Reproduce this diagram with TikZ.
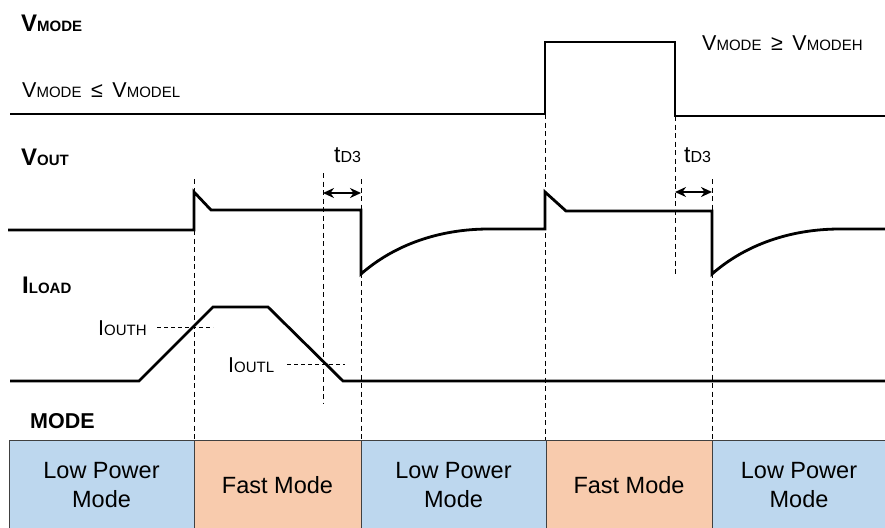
\documentclass[tikz,border=0pt]{standalone}
\usepackage{fontspec}
\setmainfont{Liberation Sans}
\usetikzlibrary{arrows.meta}
\definecolor{lpblue}{HTML}{BDD7EE}
\definecolor{fmorange}{HTML}{F8CBAD}
\newcommand\smtxt[1]{{\fontsize{15}{15}\selectfont #1}}
\newcommand\smbold[1]{{\fontsize{15}{15}\selectfont\bfseries #1}}
\begin{document}
\begin{tikzpicture}[x=1pt,y=-1pt,
  sig/.style={line width=2.8pt},
  guide/.style={line width=0.9pt, dash pattern=on 5pt off 3.5pt},
  thinguide/.style={line width=0.9pt, dash pattern=on 4pt off 3pt},
  lbl/.style={anchor=base west, inner sep=0pt, font=\fontsize{21.5}{22}\selectfont},
  blbl/.style={anchor=base west, inner sep=0pt, font=\fontsize{24}{24}\selectfont\bfseries},
  modebox/.style={draw=black!75, line width=0.8pt, minimum height=90pt, inner sep=0pt, outer sep=0pt, align=center, font=\fontsize{23.5}{29}\selectfont},
  dimarrow/.style={line width=2.4pt, {Stealth[length=11pt,width=10pt]}-{Stealth[length=11pt,width=10pt]}}]
\useasboundingbox (0,0) rectangle (885,527);

% mode boxes
\node[modebox, fill=lpblue, minimum width=185pt] (m1) at (101.5,485) {Low Power\\Mode};
\node[modebox, fill=fmorange, minimum width=167pt] (m2) at (277.5,485) {Fast Mode};
\node[modebox, fill=lpblue, minimum width=185pt] (m3) at (453.5,485) {Low Power\\Mode};
\node[modebox, fill=fmorange, minimum width=166pt] (m4) at (629,485) {Fast Mode};
\node[modebox, fill=lpblue, minimum width=174pt] (m5) at (799,485) {Low Power\\Mode};

% vertical guides
\coordinate (g1t) at (194,179); \coordinate (g1b) at (194,440);
\coordinate (g2t) at (323,173); \coordinate (g2b) at (323,404);
\coordinate (g3t) at (361,179); \coordinate (g3b) at (361,440);
\coordinate (g4t) at (545,114); \coordinate (g4b) at (545,440);
\coordinate (g5t) at (675,116); \coordinate (g5b) at (675,275);
\coordinate (g6t) at (712,179); \coordinate (g6b) at (712,440);
\draw[guide] (g1t) -- (g1b);
\draw[guide] (g2t) -- (g2b);
\draw[guide] (g3t) -- (g3b);
\draw[guide] (g4t) -- (g4b);
\draw[guide] (g5t) -- (g5b);
\draw[guide] (g6t) -- (g6b);

% horizontal threshold guides
\coordinate (h1a) at (157,327); \coordinate (h1b) at (213,327);
\coordinate (h2a) at (287,364); \coordinate (h2b) at (345,364);
\draw[thinguide] (h1a) -- (h1b);
\draw[thinguide] (h2a) -- (h2b);

% VMODE
\draw[sig] (10,114) -- (545,114) -- (545,42) -- (675,42) -- (675,116) -- (885,116);
% VOUT
\draw[sig] (8,230) -- (194,230) -- (194,192) -- (211,210) -- (361,210) -- (361,274)
  .. controls (394,245) and (439,229) .. (489,229) -- (545,229) -- (545,192) -- (566,211)
  -- (712,211) -- (712,274) .. controls (745,245) and (790,229) .. (840,229) -- (885,229);
% ILOAD
\draw[sig] (10,381) -- (139,381) -- (213,307) -- (268,307) -- (343,381) -- (885,381);

% tD3 arrows
\coordinate (a1l) at (323,193); \coordinate (a1r) at (361,193);
\coordinate (a2l) at (675,192); \coordinate (a2r) at (712,192);
\draw[dimarrow] (a1l) -- (a1r);
\draw[dimarrow] (a2l) -- (a2r);

% labels
\node[blbl] (lvmode) at (21,32) {V\smbold{MODE}};
\node[lbl] (lvl) at (22,97) {V\smtxt{MODE} \,≤\, V\smtxt{MODEL}};
\node[lbl] (lvh) at (702,51) {V\smtxt{MODE} \,≥\, V\smtxt{MODEH}};
\node[blbl] (lvout) at (21,165) {V\smbold{OUT}};
\node[blbl] (liload) at (22,293) {I\smbold{LOAD}};
\node[anchor=base west, inner sep=0pt, font=\fontsize{21.5}{22}\selectfont\bfseries] (lmode) at (30,428) {MODE};
\node[anchor=base west, inner sep=0pt, font=\fontsize{23}{23}\selectfont] (ltd1) at (334,162) {t{\fontsize{16}{16}\selectfont D3}};
\node[anchor=base west, inner sep=0pt, font=\fontsize{23}{23}\selectfont] (ltd2) at (684,162) {t{\fontsize{16}{16}\selectfont D3}};
\node[lbl] (liouth) at (98,335) {I\smtxt{OUTH}};
\node[lbl] (lioutl) at (228,372) {I\smtxt{OUTL}};
\end{tikzpicture}
\end{document}
